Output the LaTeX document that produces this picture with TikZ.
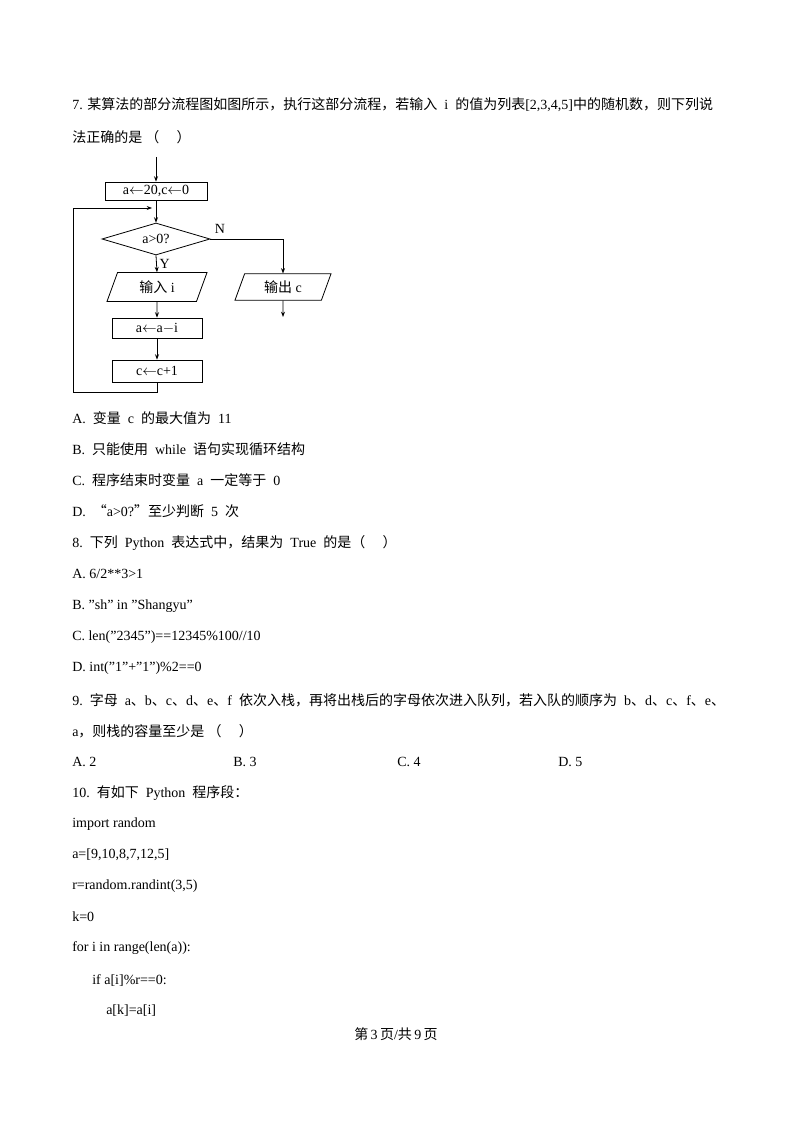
\documentclass[tikz,border=0pt]{standalone}
\usepackage{fontspec}
\setmainfont{Liberation Serif}[Ligatures=NoCommon]
\newfontfamily\cjk{Noto Sans CJK SC}
\usetikzlibrary{arrows.meta,shapes.geometric}
\newcommand\zh[1]{{\cjk #1}}
\newcommand\qq{\symbol{34}}
\begin{document}
\begin{tikzpicture}[x=0.75pt,y=-0.75pt,
  txt/.style={anchor=west,inner sep=0,font=\fontsize{10.5}{12}\selectfont},
  fc/.style={draw,line width=0.6pt,font=\fontsize{10.5}{12}\selectfont,inner sep=0},
  ar/.style={-{Stealth[length=4pt,width=3pt]},line width=0.6pt},
  ln/.style={line width=0.6pt}]
\useasboundingbox (0,0) rectangle (793,1123);
\fill[white] (0,0) rectangle (793,1123);
% texts
\node[txt] (t1) at (72,105) {7. \zh{某算法的部分流程图如图所示，执行这部分流程，若输入}\ \ i\ \ \zh{的值为列表}[2,3,4,5]\zh{中的随机数，则下列说}};
\node[txt] (t2) at (72,137) {\zh{法正确的是 （\quad\ ）}};
\node[txt] (qa) at (72,418) {A.\ \ \zh{变量}\ \ c\ \ \zh{的最大值为}\ \ 11};
\node[txt] (qb) at (72,449) {B.\ \ \zh{只能使用}\ \ while\ \ \zh{语句实现循环结构}};
\node[txt] (qc) at (72,480) {C.\ \ \zh{程序结束时变量}\ \ a\ \ \zh{一定等于}\ \ 0};
\node[txt] (qd) at (72,511) {D.\ \ \zh{“}a>0?\zh{”至少判断}\ \ 5\ \ \zh{次}};
\node[txt] (q8) at (72,543) {8.\ \ \zh{下列}\ \ Python\ \ \zh{表达式中，结果为}\ \ True\ \ \zh{的是（\quad\ ）}};
\node[txt] (a8) at (72,574) {A. 6/2**3>1};
\node[txt] (b8) at (72,606) {B. \qq sh\qq{} in \qq Shangyu\qq};
\node[txt] (c8) at (72,637) {C. len(\qq 2345\qq)==12345\%100//10};
\node[txt] (d8) at (72,668) {D. int(\qq 1\qq+\qq 1\qq)\%2==0};
\node[txt] (q9) at (72,700) {9.\ \ \zh{字母}\ \ a\zh{、}b\zh{、}c\zh{、}d\zh{、}e\zh{、}f\ \ \zh{依次入栈，再将出栈后的字母依次进入队列，若入队的顺序为}\ \ b\zh{、}d\zh{、}c\zh{、}f\zh{、}e\zh{、}};
\node[txt] (q9b) at (72,731) {a\zh{，则栈的容量至少是 （\quad\ ）}};
\node[txt] (a9) at (72,762) {A. 2};
\node[txt] (b9) at (233,762) {B. 3};
\node[txt] (c9) at (397,762) {C. 4};
\node[txt] (d9) at (558,762) {D. 5};
\node[txt] (q10) at (72,793) {10.\ \ \zh{有如下}\ \ Python\ \ \zh{程序段：}};
\node[txt] (p1) at (72,824) {import random};
\node[txt] (p2) at (72,855) {a=[9,10,8,7,12,5]};
\node[txt] (p3) at (72,886) {r=random.randint(3,5)};
\node[txt] (p4) at (72,917) {k=0};
\node[txt] (p5) at (72,948) {for i in range(len(a)):};
\node[txt] (p6) at (92,980) {if a[i]\%r==0:};
\node[txt] (p7) at (106,1011) {a[k]=a[i]};
\node[txt,anchor=center] (ft) at (396,1034) {\zh{第}\,3\,\zh{页}/\zh{共}\,9\,\zh{页}};
% flowchart
\coordinate (st) at (156,157);
\node[fc,minimum width=102*0.75pt,minimum height=18*0.75pt] (b1) at (156,191) {a$\leftarrow$20,c$\leftarrow$0};
\node[fc,diamond,aspect=3.4,minimum width=108*0.75pt,minimum height=32*0.75pt] (dm) at (156,239) {a>0?};
\node[fc,trapezium,trapezium left angle=70,trapezium right angle=110,minimum width=100*0.75pt,minimum height=21*0.75pt] (in) at (157,287) {\zh{输入} i};
\node[fc,trapezium,trapezium left angle=70,trapezium right angle=110,minimum width=96*0.75pt,minimum height=21*0.75pt] (out) at (283,287) {\zh{输出} c};
\node[fc,minimum width=90*0.75pt,minimum height=20*0.75pt] (b2) at (157,328) {a$\leftarrow$a$-$i};
\node[fc,minimum width=90*0.75pt,minimum height=22*0.75pt] (b3) at (157,371) {c$\leftarrow$c+1};
\coordinate (lp) at (156,208);
\coordinate (oe) at (283,317);
\draw[ar] (st) -- (b1);
\draw[ln] (b1) -- (lp);
\draw[ar] (lp) -- (dm.north);
\draw[ar] (dm.south) -- (in.north) node[pos=0.5,right,inner sep=2pt,font=\fontsize{10.5}{12}\selectfont] {Y};
\draw[ar] (dm.east) -| (out.north);
\node[font=\fontsize{10.5}{12}\selectfont] (nl) at (220,229) {N};
\draw[ar] (in.south) -- (b2.north);
\draw[ar] (b2.south) -- (b3.north);
\draw[ar] (out.south) -- (oe);
\draw[ar] (b3.south) -- (157,392) -- (73,392) -- (73,208) -- (152,208);
\end{tikzpicture}
\end{document}
